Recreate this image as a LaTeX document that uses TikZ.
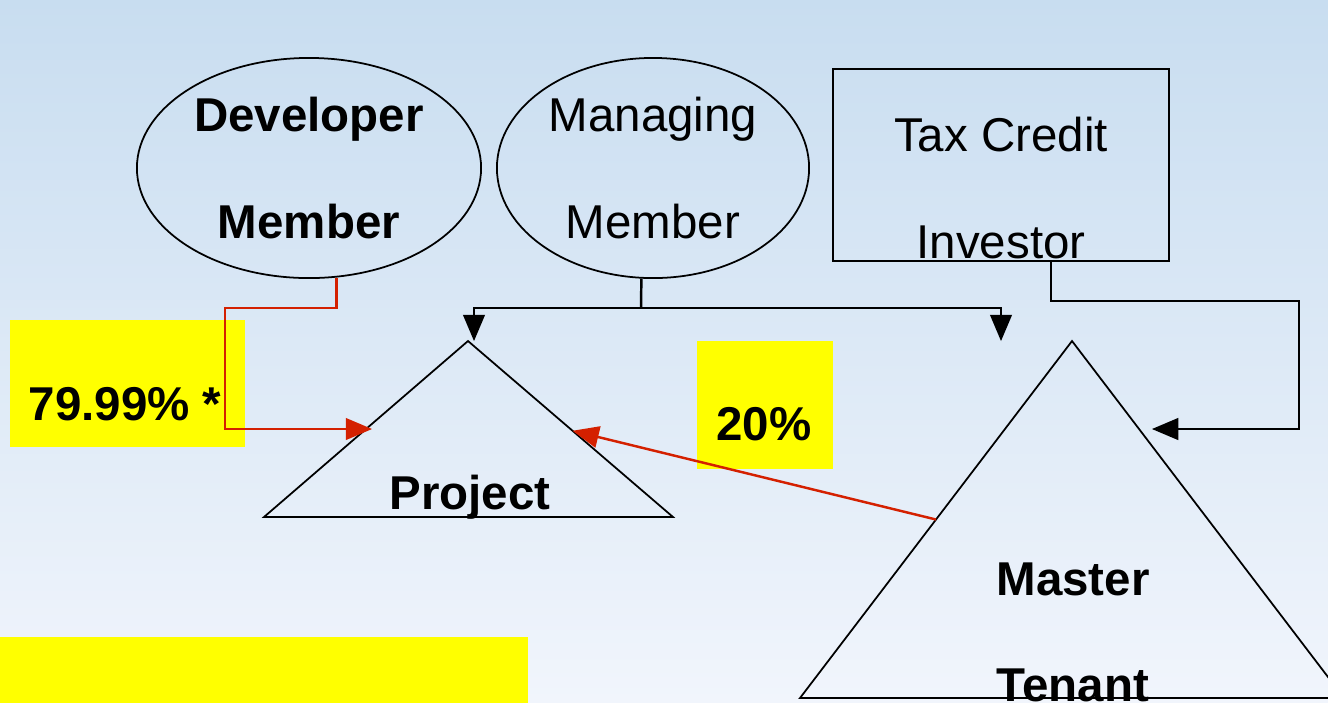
\documentclass[tikz,border=0pt]{standalone}
\usepackage{fontspec}
\setmainfont{Liberation Sans}
\usetikzlibrary{arrows, shapes.geometric, calc}

\definecolor{skytop}{RGB}{200,221,240}
\definecolor{skybot}{RGB}{241,245,252}
\definecolor{hlyellow}{RGB}{255,255,0}
\definecolor{arrred}{RGB}{212,32,0}

\begin{document}
\begin{tikzpicture}[x=0.01cm, y=-0.01cm, every text node part/.style={align=center},
  font=\fontsize{13.5}{30.2}\selectfont]

\tikzstyle{oval}=[draw, ellipse, line width=0.5pt, inner sep=0pt, minimum height=2.2cm]
\tikzstyle{box}=[draw, line width=0.5pt, inner sep=0pt]
\tikzstyle{hl}=[fill=hlyellow, inner sep=0pt]
\tikzstyle{tri}=[draw, line width=0.5pt]
\tikzstyle{arr}=[draw, line width=0.7pt, -triangle 45]
\tikzstyle{rarr}=[arr, color=arrred]

\useasboundingbox (0,0) rectangle (1328,702);
\clip (0,0) rectangle (1328,702);
\fill [top color=skytop, bottom color=skybot] (0,0) rectangle (1328,702);

% yellow highlights
\node (hl1) [hl, minimum width=2.35cm, minimum height=1.27cm] at (127.5,383.5) {};
\node (hl2) [hl, minimum width=1.36cm, minimum height=1.28cm] at (765,405) {};
\node (hl3) [hl, minimum width=5.28cm, minimum height=1.24cm] at (264,699) {};

% owners
\node (dev) [oval, minimum width=3.44cm] at (309,168) {\bfseries Developer\\\bfseries Member};
\node (mgr) [oval, minimum width=3.12cm] at (653,168) {Managing\\Member};
\node (tci) [box, minimum width=3.36cm, minimum height=1.92cm] at (1001,165) {};
\node (tcitxt) at (1001,188) {Tax Credit\\Investor};

% triangles
\coordinate (prjA) at (468,341);
\coordinate (prjL) at (264,517);
\coordinate (prjR) at (673,517);
\coordinate (mtA) at (1072,341);
\coordinate (mtL) at (800,698);
\coordinate (mtR) at (1344,698);
\path [tri] (prjA) -- (prjL) -- (prjR) -- cycle;
\path [tri] (mtA) -- (mtL) -- (mtR) -- cycle;
\node (prj) at (470,497) {\bfseries Project};
\node (mt) at (1073,632) {\bfseries Master\\\bfseries Tenant};

% connectors
\coordinate (mgrj) at (641,308);
\coordinate (prjtop) at (474,341);
\coordinate (mttop) at (1001,341);
\coordinate (mtin) at (1152,429);
\coordinate (prjin) at ($(prjL)!0.5!(prjA)+(6,0)$);

\path [rarr] (dev.284.5) |- (225,308) |- (prjin);
\path [draw, line width=0.7pt] (mgr.264) -- (mgrj);
\path [arr] (mgrj) -| (prjtop);
\path [arr] (mgrj) -| (mttop);
\path [arr] ($(tci.south)+(50,0)$) |- (1299,301) |- (mtin);
\path [rarr] ($(mtL)!0.5!(mtA)$) -- ($(prjR)!0.49!(prjA)$);

% percentages
\node (pct1) at (125,404) {\bfseries 79.99\% *};
\node (pct2) at (764,424) {\bfseries 20\%};

\end{tikzpicture}
\end{document}
